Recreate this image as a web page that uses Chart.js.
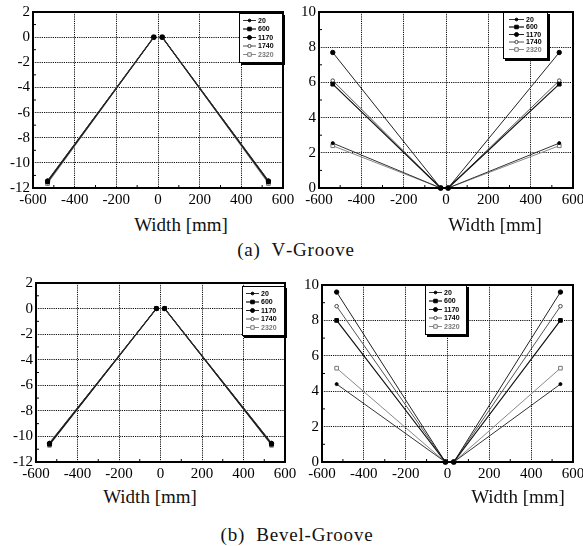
<!DOCTYPE html>
<html>
<head>
<meta charset="utf-8">
<script src="https://cdn.jsdelivr.net/npm/chart.js@4.4.0/dist/chart.umd.min.js"></script>
<style>
  body { margin: 0; background: #fff; width: 583px; height: 546px; overflow: hidden; position: relative; font-family: "Liberation Serif", serif; color: #111; }
  canvas { position: absolute; }
  .lbl { position: absolute; font-size: 19px; white-space: pre; transform: translate(-50%, -50%); }
  .cap { position: absolute; font-size: 19px; letter-spacing: 0.8px; white-space: pre; transform: translate(-50%, -50%); }
</style>
</head>
<body>
<canvas id="vLeft" width="300" height="212" style="left:0;top:0"></canvas>
<canvas id="vRight" width="300" height="212" style="left:290px;top:0"></canvas>
<canvas id="bLeft" width="300" height="216" style="left:0;top:270px"></canvas>
<canvas id="bRight" width="300" height="216" style="left:290px;top:270px"></canvas>

<div class="lbl" style="left:181px;top:225px">Width [mm]</div>
<div class="lbl" style="left:495px;top:225px">Width [mm]</div>
<div class="cap" style="left:296px;top:250px">(a)  V‐Groove</div>
<div class="lbl" style="left:150px;top:497px">Width [mm]</div>
<div class="lbl" style="left:518px;top:497px">Width [mm]</div>
<div class="cap" style="left:297px;top:535px">(b)  Bevel‐Groove</div>

<script>
// series labels (legend)
const series = ['20', '600', '1170', '1740', '2320'];

// x positions of the points: left end, left centre, right centre, right end
const vLeftX = [-530, -20, 20, 530];
const vRightX = [-535, -25, 10, 535];
const bLeftX = [-535, -20, 20, 535];
const bRightX = [-530, -10, 30, 540];

// value at the two outer ends, one per series
const vLeftEnds = [-11.4, -11.5, -11.45, -11.55, -11.65];
const vRightEnds = [2.55, 5.9, 7.7, 6.1, 2.4];
const bLeftEnds = [-10.5, -10.6, -10.55, -10.65, -10.7];
const bRightEnds = [4.4, 8.0, 9.6, 8.8, 5.3];

// value at the centre points
const centreY = 0;

const looks = [
  { ps: 'circle', r: 1.5, fill: '#000', stroke: '#000', line: '#333', lw: 1 },
  { ps: 'rect', r: 2.6, fill: '#000', stroke: '#000', line: '#111', lw: 1.2 },
  { ps: 'circle', r: 2.2, fill: '#000', stroke: '#000', line: '#222', lw: 1 },
  { ps: 'circle', r: 1.8, fill: '#fff', stroke: '#444', line: '#555', lw: 1 },
  { ps: 'rect', r: 2.6, fill: '#fff', stroke: '#777', line: '#888', lw: 1 }
];

function buildSets(xs, ends) {
  return series.map((name, i) => ({
    label: name,
    data: [
      { x: xs[0], y: ends[i] },
      { x: xs[1], y: centreY },
      { x: 0, y: null },
      { x: xs[2], y: centreY },
      { x: xs[3], y: ends[i] }
    ],
    spanGaps: false,
    clip: false,
    borderColor: looks[i].line,
    borderWidth: looks[i].lw,
    pointStyle: looks[i].ps,
    pointRadius: looks[i].r,
    pointBackgroundColor: looks[i].fill,
    pointBorderColor: looks[i].stroke,
    pointBorderWidth: 1
  }));
}

// frame, minor ticks and the boxed legend inside the plot
const framePlugin = {
  id: 'frame',
  afterDraw(chart, args, opts) {
    const ctx = chart.ctx;
    const a = chart.chartArea;
    const xs = chart.scales.x, ys = chart.scales.y;
    ctx.save();
    // minor ticks
    ctx.strokeStyle = '#000';
    ctx.lineWidth = 1;
    ctx.beginPath();
    for (let i = 0; i < xs.ticks.length - 1; i++) {
      const p = (xs.getPixelForValue(xs.ticks[i].value) + xs.getPixelForValue(xs.ticks[i + 1].value)) / 2;
      ctx.moveTo(p, a.bottom); ctx.lineTo(p, a.bottom - 3);
    }
    for (let i = 0; i < ys.ticks.length - 1; i++) {
      const p = (ys.getPixelForValue(ys.ticks[i].value) + ys.getPixelForValue(ys.ticks[i + 1].value)) / 2;
      ctx.moveTo(a.left, p); ctx.lineTo(a.left + 3, p);
    }
    ctx.stroke();
    // frame
    ctx.lineWidth = 2;
    ctx.strokeRect(a.left, a.top, a.right - a.left, a.bottom - a.top);

    // legend box
    const bx = a.left + opts.dx, by = a.top + opts.dy, bw = opts.w, bh = opts.h;
    ctx.fillStyle = '#000';
    ctx.fillRect(bx + 2, by + 2, bw, bh);
    ctx.fillStyle = '#fff';
    ctx.fillRect(bx, by, bw, bh);
    ctx.lineWidth = 1;
    ctx.strokeStyle = '#000';
    ctx.strokeRect(bx + 0.5, by + 0.5, bw - 1, bh - 1);
    ctx.font = 'bold 7px "Liberation Sans", Arial, sans-serif';
    ctx.textBaseline = 'middle';
    chart.data.datasets.forEach((ds, i) => {
      const y = by + opts.first + opts.step * i;
      const x1 = bx + opts.l1, x2 = bx + opts.l2, xm = (x1 + x2) / 2;
      ctx.strokeStyle = ds.borderColor;
      ctx.lineWidth = ds.borderWidth;
      ctx.beginPath(); ctx.moveTo(x1, y); ctx.lineTo(x2, y); ctx.stroke();
      ctx.fillStyle = ds.pointBackgroundColor;
      ctx.strokeStyle = ds.pointBorderColor;
      ctx.lineWidth = 1;
      const r = ds.pointRadius * 0.9;
      ctx.beginPath();
      if (ds.pointStyle === 'rect') ctx.rect(xm - r * 0.75, y - r * 0.75, r * 1.5, r * 1.5);
      else ctx.arc(xm, y, r, 0, Math.PI * 2);
      ctx.fill(); ctx.stroke();
      ctx.fillStyle = i === 4 ? '#777' : '#000';
      ctx.fillText(ds.label, bx + opts.tx, y + 0.5);
    });
    ctx.restore();
  }
};

const tickFont = { family: 'Liberation Serif', size: 15 };

function makeChart(id, xs, ends, yMin, yMax, yWidth, pad, legendPos) {
  return new Chart(document.getElementById(id), {
    type: 'line',
    data: { datasets: buildSets(xs, ends) },
    options: {
      responsive: false,
      animation: false,
      devicePixelRatio: 1,
      layout: { padding: pad },
      plugins: {
        legend: { display: false },
        tooltip: { enabled: false },
        frame: legendPos
      },
      scales: {
        x: {
          type: 'linear', min: -600, max: 600,
          afterFit: s => { s.height = 24; },
          ticks: { stepSize: 200, padding: 3, color: '#000', font: tickFont },
          grid: { color: '#111', lineWidth: 1, drawTicks: false },
          border: { display: false, dash: [1.2, 1] }
        },
        y: {
          min: yMin, max: yMax,
          afterFit: s => { s.width = yWidth; },
          ticks: { stepSize: 2, padding: 3, color: '#000', font: tickFont },
          grid: { color: '#111', lineWidth: 1, drawTicks: false },
          border: { display: false, dash: [1.2, 1] }
        }
      }
    },
    plugins: [framePlugin]
  });
}

makeChart('vLeft', vLeftX, vLeftEnds, -12, 2, 33, { top: 12, right: 17, left: 0, bottom: 0 },
  { dx: 206, dy: 1, w: 44, h: 50, first: 7.5, step: 8.5, l1: 4, l2: 17, tx: 19 });
makeChart('vRight', vRightX, vRightEnds, 0, 10, 29, { top: 12, right: 17, left: 0, bottom: 0 },
  { dx: 184, dy: 0, w: 45, h: 47, first: 7.5, step: 7.5, l1: 6, l2: 21, tx: 23 });
makeChart('bLeft', bLeftX, bLeftEnds, -12, 2, 36, { top: 13, right: 15, left: 0, bottom: 0 },
  { dx: 206, dy: 3, w: 43, h: 50, first: 7.5, step: 8.5, l1: 4, l2: 17, tx: 19 });
makeChart('bRight', bRightX, bRightEnds, 0, 10, 32, { top: 15, right: 17, left: 0, bottom: 0 },
  { dx: 103, dy: 0, w: 42, h: 50, first: 7.5, step: 8.5, l1: 4, l2: 17, tx: 19 });
</script>
</body>
</html>
